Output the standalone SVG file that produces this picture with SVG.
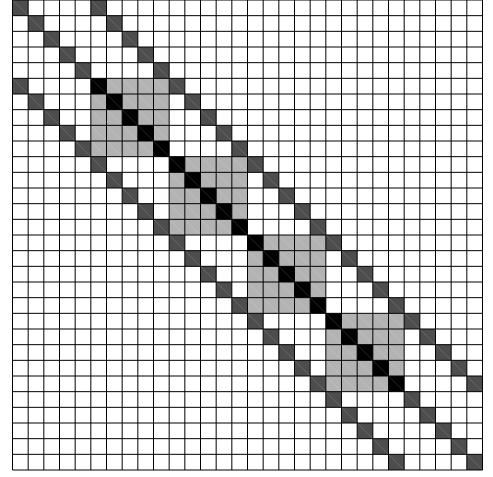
<svg xmlns="http://www.w3.org/2000/svg" width="493" height="477" viewBox="0 0 493 477">
<style>
.lg{fill:#b3b3b3}
.bk{fill:#000000}
.dk{fill:#4d4d4d}
.fd{fill:none;stroke:#ffffff;stroke-opacity:0.22;stroke-width:0.7}
.grid{fill:none;stroke:#000000;stroke-width:1}
</style>
<defs>
<rect id="c" width="1" height="1"/>
</defs>
<rect x="0" y="0" width="493" height="477" fill="#ffffff"/>
<g id="matrix" transform="translate(12.5,0) scale(15.6667)">
<g id="blocks" class="lg">
<rect x="5" y="5" width="5" height="5"/>
<rect x="10" y="10" width="5" height="5"/>
<rect x="15" y="15" width="5" height="5"/>
<rect x="20" y="20" width="5" height="5"/>
</g>
<g id="diag-black" class="bk">
<use href="#c" x="5" y="5"/><use href="#c" x="6" y="6"/><use href="#c" x="7" y="7"/><use href="#c" x="8" y="8"/><use href="#c" x="9" y="9"/>
<use href="#c" x="10" y="10"/><use href="#c" x="11" y="11"/><use href="#c" x="12" y="12"/><use href="#c" x="13" y="13"/><use href="#c" x="14" y="14"/>
<use href="#c" x="15" y="15"/><use href="#c" x="16" y="16"/><use href="#c" x="17" y="17"/><use href="#c" x="18" y="18"/><use href="#c" x="19" y="19"/>
<use href="#c" x="20" y="20"/><use href="#c" x="21" y="21"/><use href="#c" x="22" y="22"/><use href="#c" x="23" y="23"/><use href="#c" x="24" y="24"/>
</g>
<g id="diag-dark" class="dk">
<use href="#c" x="0" y="0"/><use href="#c" x="1" y="1"/><use href="#c" x="2" y="2"/><use href="#c" x="3" y="3"/><use href="#c" x="4" y="4"/>
<use href="#c" x="25" y="25"/><use href="#c" x="26" y="26"/><use href="#c" x="27" y="27"/><use href="#c" x="28" y="28"/><use href="#c" x="29" y="29"/>
</g>
<g id="band-upper" class="dk">
<use href="#c" x="5" y="0"/><use href="#c" x="6" y="1"/><use href="#c" x="7" y="2"/><use href="#c" x="8" y="3"/><use href="#c" x="9" y="4"/>
<use href="#c" x="10" y="5"/><use href="#c" x="11" y="6"/><use href="#c" x="12" y="7"/><use href="#c" x="13" y="8"/><use href="#c" x="14" y="9"/>
<use href="#c" x="15" y="10"/><use href="#c" x="16" y="11"/><use href="#c" x="17" y="12"/><use href="#c" x="18" y="13"/><use href="#c" x="19" y="14"/>
<use href="#c" x="20" y="15"/><use href="#c" x="21" y="16"/><use href="#c" x="22" y="17"/><use href="#c" x="23" y="18"/><use href="#c" x="24" y="19"/>
<use href="#c" x="25" y="20"/><use href="#c" x="26" y="21"/><use href="#c" x="27" y="22"/><use href="#c" x="28" y="23"/><use href="#c" x="29" y="24"/>
</g>
<g id="band-lower" class="dk">
<use href="#c" x="0" y="5"/><use href="#c" x="1" y="6"/><use href="#c" x="2" y="7"/><use href="#c" x="3" y="8"/><use href="#c" x="4" y="9"/>
<use href="#c" x="5" y="10"/><use href="#c" x="6" y="11"/><use href="#c" x="7" y="12"/><use href="#c" x="8" y="13"/><use href="#c" x="9" y="14"/>
<use href="#c" x="10" y="15"/><use href="#c" x="11" y="16"/><use href="#c" x="12" y="17"/><use href="#c" x="13" y="18"/><use href="#c" x="14" y="19"/>
<use href="#c" x="15" y="20"/><use href="#c" x="16" y="21"/><use href="#c" x="17" y="22"/><use href="#c" x="18" y="23"/><use href="#c" x="19" y="24"/>
<use href="#c" x="20" y="25"/><use href="#c" x="21" y="26"/><use href="#c" x="22" y="27"/><use href="#c" x="23" y="28"/><use href="#c" x="24" y="29"/>
</g>
<path id="facet-diagonals" class="fd" vector-effect="non-scaling-stroke" d="M0 0L30 30M5 0L30 25M0 5L25 30
M6 5L10 9M7 5L10 8M8 5L10 7M9 5L10 6M5 6L9 10M5 7L8 10M5 8L7 10M5 9L6 10
M11 10L15 14M12 10L15 13M13 10L15 12M14 10L15 11M10 11L14 15M10 12L13 15M10 13L12 15M10 14L11 15
M16 15L20 19M17 15L20 18M18 15L20 17M19 15L20 16M15 16L19 20M15 17L18 20M15 18L17 20M15 19L16 20
M21 20L25 24M22 20L25 23M23 20L25 22M24 20L25 21M20 21L24 25M20 22L23 25M20 23L22 25M20 24L21 25"/>
<path id="grid" class="grid" vector-effect="non-scaling-stroke" d="M0 0V30M1 0V30M2 0V30M3 0V30M4 0V30M5 0V30M6 0V30M7 0V30M8 0V30M9 0V30M10 0V30M11 0V30M12 0V30M13 0V30M14 0V30M15 0V30M16 0V30M17 0V30M18 0V30M19 0V30M20 0V30M21 0V30M22 0V30M23 0V30M24 0V30M25 0V30M26 0V30M27 0V30M28 0V30M29 0V30M30 0V30
M0 0H30M0 1H30M0 2H30M0 3H30M0 4H30M0 5H30M0 6H30M0 7H30M0 8H30M0 9H30M0 10H30M0 11H30M0 12H30M0 13H30M0 14H30M0 15H30M0 16H30M0 17H30M0 18H30M0 19H30M0 20H30M0 21H30M0 22H30M0 23H30M0 24H30M0 25H30M0 26H30M0 27H30M0 28H30M0 29H30M0 30H30"/>
</g>
</svg>
